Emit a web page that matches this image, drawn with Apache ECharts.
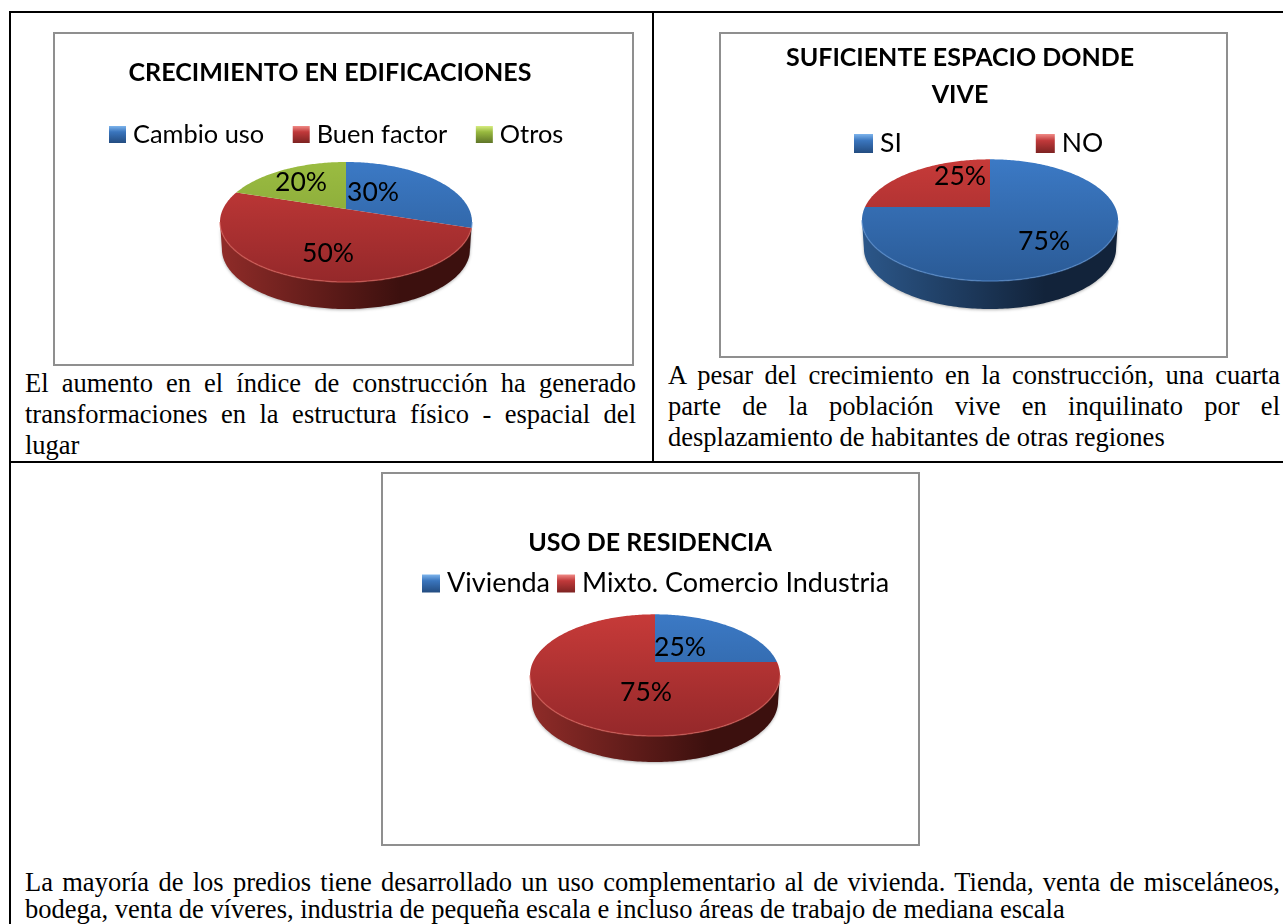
<!DOCTYPE html>
<html>
<head>
<meta charset="utf-8">
<title>Crecimiento y uso</title>
<script src="https://cdn.jsdelivr.net/npm/echarts@6/dist/echarts.min.js"></script>
<style>
  html, body { margin: 0; padding: 0; background: #fff; overflow: hidden; }
  #page { position: relative; width: 1283px; height: 924px; overflow: hidden; }
  .rule { position: absolute; background: #000; }
  .box { position: absolute; box-shadow: inset 0 0 0 2px #8f8f8f; }
  .chart { position: absolute; left: 0; top: 1px; width: 100%; height: 100%; }
  .caption { position: absolute; font-family: "Liberation Serif", serif; font-size: 26.5px; color: #000; }
  .caption div { position: absolute; left: 0; right: 0; white-space: nowrap; text-align: justify; text-align-last: justify; line-height: 24px; }
  .caption div.last { text-align-last: left; }
</style>
</head>
<body>
<div id="page">
  <div class="rule" style="left:9px;top:11px;width:1274px;height:2px"></div>
  <div class="rule" style="left:9px;top:11px;width:2px;height:913px"></div>
  <div class="rule" style="left:652px;top:11px;width:2px;height:451px"></div>
  <div class="rule" style="left:9px;top:461px;width:1274px;height:2px"></div>

  <div class="box" style="left:53px;top:32px;width:581px;height:334px"><div id="chart1" class="chart"></div></div>
  <div class="box" style="left:719px;top:32px;width:509px;height:326px"><div id="chart2" class="chart"></div></div>
  <div class="box" style="left:381px;top:472px;width:539px;height:374px"><div id="chart3" class="chart"></div></div>

  <div class="caption" style="left:25px;top:0;width:611px">
    <div style="top:371px">El aumento en el índice de construcción ha generado</div>
    <div style="top:402px">transformaciones en la estructura físico - espacial del</div>
    <div class="last" style="top:433px">lugar</div>
  </div>
  <div class="caption" style="left:668px;top:0;width:612px">
    <div style="top:363px">A pesar del crecimiento en la construcción, una cuarta</div>
    <div style="top:394px">parte de la población vive en inquilinato por el</div>
    <div class="last" style="top:425px">desplazamiento de habitantes de otras regiones</div>
  </div>
  <div class="caption" style="left:25px;top:0;width:1255px">
    <div style="top:870px">La mayoría de los predios tiene desarrollado un uso complementario al de vivienda. Tienda, venta de misceláneos,</div>
    <div class="last" style="top:897px">bodega, venta de víveres, industria de pequeña escala e incluso áreas de trabajo de mediana escala</div>
  </div>
</div>
<script>
// data
const edificacionesNames = ['Cambio uso', 'Buen factor', 'Otros']
const edificacionesValues = [30, 50, 20]
const espacioNames = ['SI', 'NO']
const espacioValues = [75, 25]
const residenciaNames = ['Vivienda', 'Mixto. Comercio Industria']
const residenciaValues = [25, 75]

const palette = {
  blue: { hi: '#3d7cc9', lo: '#2a5a95', sideL: '#2b5688', sideR: '#12233a', rim: '#5a8fd0', mark: ['#7db4ec', '#3a75bd', '#234c80'] },
  red: { hi: '#cb3c3a', lo: '#94282a', sideL: '#8e2b28', sideR: '#3c100e', rim: '#d9605a', mark: ['#f08a86', '#c0393a', '#7d2322'] },
  green: { hi: '#9dbf42', lo: '#7c9a34', sideL: '#6f8a2e', sideR: '#3f4f1a', rim: '#b5d060', mark: ['#d6ec80', '#98b93f', '#5f7528'] }
}

const FONT = 'Lato, sans-serif'
const K = 0.2166 // perspective of the tilted disc

// disc point for clockwise angle a (radians, 0 at 12 o'clock), with perspective
function discPoint(pie, a, drop, scale) {
  const X = Math.sin(a)
  const u = -Math.cos(a)
  const w = 1 - K * u
  return [pie.cx + pie.rx * scale * X / w, pie.cy + pie.ry * u / w + drop]
}

function sliceShapes(pie, start, end, colors, labelText, labelPos) {
  const toRad = Math.PI / 180
  const top = [[pie.cx, pie.cy]]
  for (let d = start; d < end; d += 1) top.push(discPoint(pie, d * toRad, 0, 1))
  top.push(discPoint(pie, end * toRad, 0, 1))

  const children = []
  // side wall: only the part of the rim that faces the viewer
  const frontFrom = Math.max(start, 102.5)
  const frontTo = Math.min(end, 257.5)
  if (frontTo > frontFrom) {
    const upper = []
    const lower = []
    for (let d = frontFrom; d < frontTo; d += 1) {
      upper.push(discPoint(pie, d * toRad, 0, 1))
      lower.push(discPoint(pie, d * toRad, pie.depth, 0.985))
    }
    upper.push(discPoint(pie, frontTo * toRad, 0, 1))
    lower.push(discPoint(pie, frontTo * toRad, pie.depth, 0.985))
    children.push({
      type: 'polygon',
      shape: { points: upper.concat(lower.reverse()) },
      style: {
        fill: new echarts.graphic.LinearGradient(pie.cx - pie.rx, 0, pie.cx + pie.rx, 0, [
          { offset: 0, color: colors.sideL },
          { offset: 0.72, color: colors.sideR },
          { offset: 1, color: colors.sideR }
        ], true),
        shadowBlur: 3,
        shadowColor: 'rgba(0,0,0,0.3)',
        shadowOffsetY: 1
      },
      z2: 1
    })
    children.push({
      type: 'polyline',
      shape: { points: upper },
      style: { fill: null, stroke: colors.rim, lineWidth: 1.5, opacity: 0.6 },
      z2: 3
    })
  }
  children.push({
    type: 'polygon',
    shape: { points: top },
    style: {
      fill: new echarts.graphic.LinearGradient(0, pie.cy - pie.ry, 0, pie.cy + pie.ry * 1.3, [
        { offset: 0, color: colors.hi },
        { offset: 1, color: colors.lo }
      ], true)
    },
    z2: 2
  })
  children.push({
    type: 'text',
    style: {
      x: pie.cx + labelPos[0],
      y: pie.cy + labelPos[1],
      text: labelText,
      fill: '#000',
      font: '26.5px ' + FONT,
      align: 'center',
      verticalAlign: 'middle'
    },
    z2: 10
  })
  return { type: 'group', children: children }
}

function pieOption(cfg) {
  const total = cfg.values.reduce((a, b) => a + b, 0)
  let acc = 0
  const series = cfg.values.map((v, i) => {
    const start = acc / total * 360
    acc += v
    const end = acc / total * 360
    return {
      type: 'custom',
      name: cfg.names[i],
      coordinateSystem: 'none',
      silent: true,
      animation: false,
      data: [v],
      itemStyle: { color: palette[cfg.colors[i]].hi },
      renderItem: (params, api) => sliceShapes(cfg.pie, start, end, palette[cfg.colors[i]],
        api.value(0) + '%', cfg.labels[i])
    }
  })
  return {
    animation: false,
    title: {
      text: cfg.title,
      left: cfg.titleX,
      top: cfg.titleY,
      textAlign: 'center',
      textStyle: { fontFamily: FONT, fontWeight: 'bold', fontSize: 25, color: '#000', lineHeight: 37 }
    },
    legend: {
      left: cfg.legendX,
      top: cfg.legendY,
      itemGap: cfg.legendGap,
      itemWidth: cfg.legendIcon,
      itemHeight: cfg.legendIcon,
      icon: 'rect',
      selectedMode: false,
      textStyle: { fontFamily: FONT, fontSize: cfg.legendFont, color: '#000', padding: [0, 0, 0, 2] },
      data: cfg.names.map((name, i) => {
        const m = palette[cfg.colors[i]].mark
        return {
          name: name,
          itemStyle: {
            color: new echarts.graphic.LinearGradient(0, 0, 0, 1, [
              { offset: 0, color: m[0] },
              { offset: 0.35, color: m[1] },
              { offset: 1, color: m[2] }
            ])
          }
        }
      })
    },
    series: series
  }
}

const chartDefs = [
  {
    id: 'chart1', title: 'CRECIMIENTO EN EDIFICACIONES', titleX: 272, titleY: 16,
    names: edificacionesNames, values: edificacionesValues, colors: ['blue', 'red', 'green'],
    legendX: 51, legendY: 84, legendGap: 28.5, legendIcon: 17, legendFont: 25.4,
    pie: { cx: 293, cy: 176, rx: 123, ry: 57.2, depth: 27 },
    labels: [[27, -17], [-18, 44], [-45, -27]]
  },
  {
    id: 'chart2', title: 'SUFICIENTE ESPACIO DONDE\nVIVE', titleX: 236, titleY: 1,
    names: espacioNames, values: espacioValues, colors: ['blue', 'red'],
    legendX: 130, legendY: 92, legendGap: 134, legendIcon: 19, legendFont: 26.5,
    pie: { cx: 271, cy: 174, rx: 125, ry: 58, depth: 28 },
    labels: [[54, 34], [-30, -31]]
  },
  {
    id: 'chart3', title: 'USO DE RESIDENCIA', titleX: 264, titleY: 46,
    names: residenciaNames, values: residenciaValues, colors: ['blue', 'red'],
    legendX: 36, legendY: 92, legendGap: 7, legendIcon: 18, legendFont: 27,
    pie: { cx: 274, cy: 189, rx: 122, ry: 58, depth: 26 },
    labels: [[25, -15], [-9, 30]]
  }
]

chartDefs.forEach(cfg => {
  const chart = echarts.init(document.getElementById(cfg.id))
  chart.setOption(pieOption(cfg))
})
</script>
</body>
</html>
